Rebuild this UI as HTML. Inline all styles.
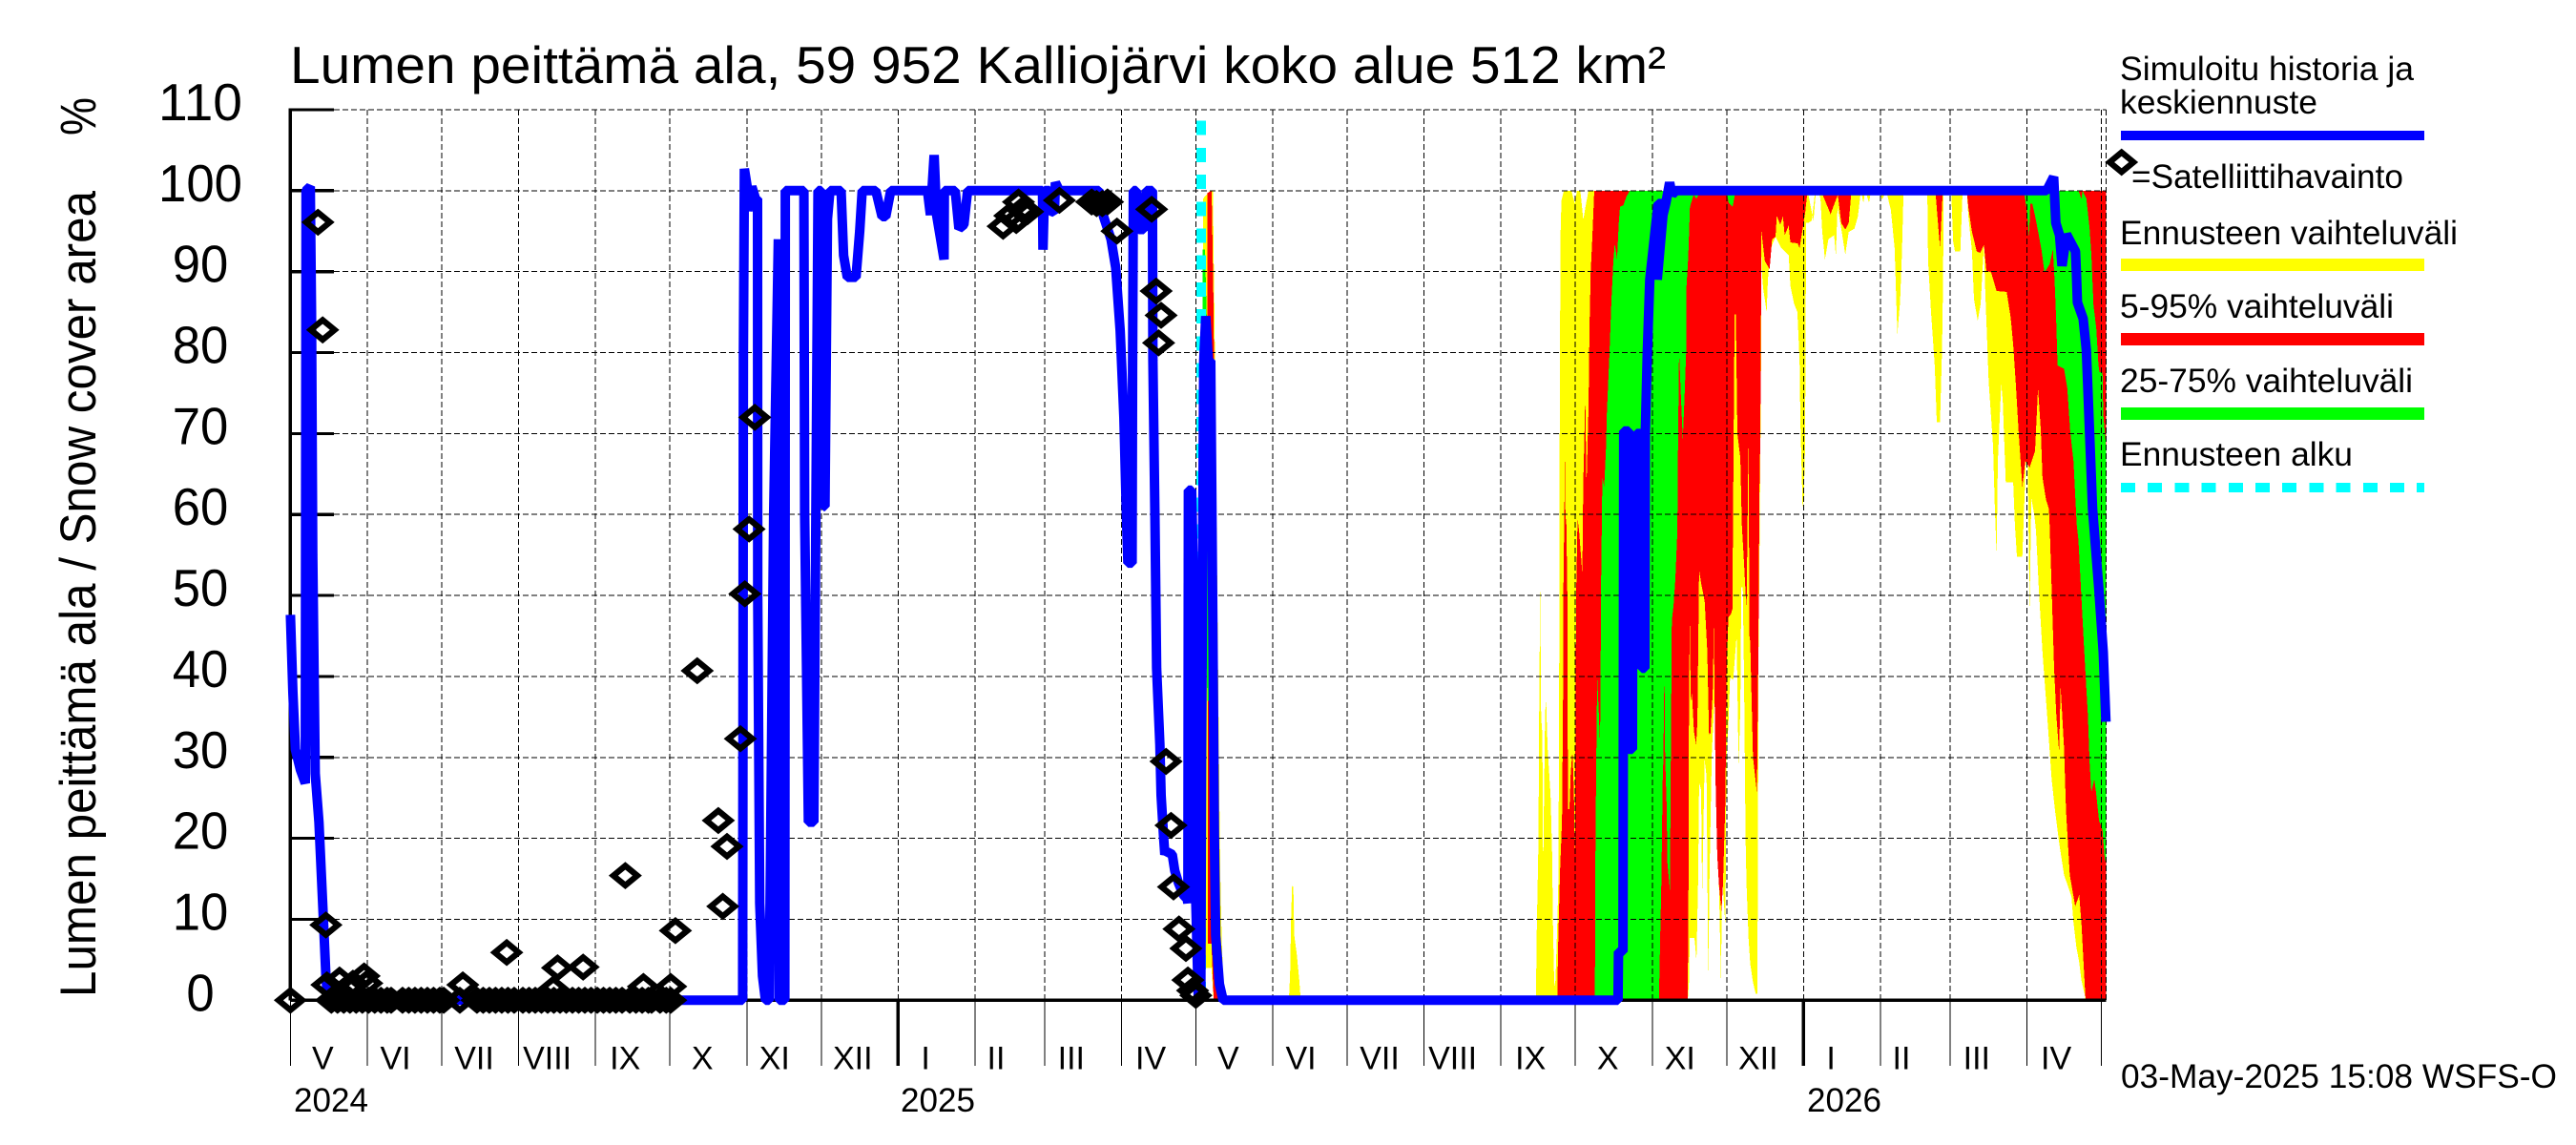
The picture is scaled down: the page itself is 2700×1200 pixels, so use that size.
<!DOCTYPE html>
<html lang="fi">
<head>
<meta charset="utf-8">
<title>Lumen peittämä ala</title>
<style>
html,body{margin:0;padding:0;background:#fff;}
svg{display:block;}
text{font-family:"Liberation Sans",sans-serif;fill:#000;}
</style>
</head>
<body>
<svg id="chart" xmlns="http://www.w3.org/2000/svg" width="2700" height="1200" viewBox="0 0 2700 1200">
  <rect x="0" y="0" width="2700" height="1200" fill="#fff"/>
  <g id="bands" shape-rendering="crispEdges"></g>
  <g id="grid" shape-rendering="crispEdges"></g>
  <g id="axes" shape-rendering="crispEdges"></g>
  <g id="start" shape-rendering="crispEdges"></g>
  <g id="line"></g>
  <g id="obs"></g>
  <g id="labels"></g>

  <text x="304" y="87" font-size="55" textLength="1442" lengthAdjust="spacingAndGlyphs">Lumen peittämä ala, 59 952 Kalliojärvi koko alue 512 km²</text>
  <text transform="translate(100 1045) rotate(-90)" font-size="53" textLength="845" lengthAdjust="spacingAndGlyphs">Lumen peittämä ala / Snow cover area</text>
  <text transform="translate(100 142) rotate(-90)" font-size="53" textLength="40" lengthAdjust="spacingAndGlyphs">%</text>
  <text x="2223" y="1140" font-size="35" textLength="457" lengthAdjust="spacingAndGlyphs">03-May-2025 15:08 WSFS-O</text>

  <g>
    <text x="2222" y="84" font-size="35" textLength="308" lengthAdjust="spacingAndGlyphs">Simuloitu historia ja</text>
    <text x="2222" y="119" font-size="35" textLength="207" lengthAdjust="spacingAndGlyphs">keskiennuste</text>
    <rect x="2223" y="137" width="318" height="10" fill="#0000ff"/>
    <polygon points="2211.2,170 2223.7,159.7 2236.2,170 2223.7,180.3" fill="none" stroke="#000" stroke-width="6.3"/>
    <text x="2234" y="197" font-size="35" textLength="285" lengthAdjust="spacingAndGlyphs">=Satelliittihavainto</text>
    <text x="2222" y="256" font-size="35" textLength="354" lengthAdjust="spacingAndGlyphs">Ennusteen vaihteluväli</text>
    <rect x="2223" y="271" width="318" height="13" fill="#ffff00"/>
    <text x="2222" y="333" font-size="35" textLength="287" lengthAdjust="spacingAndGlyphs">5-95% vaihteluväli</text>
    <rect x="2223" y="349" width="318" height="13" fill="#ff0000"/>
    <text x="2222" y="411" font-size="35" textLength="307" lengthAdjust="spacingAndGlyphs">25-75% vaihteluväli</text>
    <rect x="2223" y="427" width="318" height="13" fill="#00ff00"/>
    <text x="2222" y="488" font-size="35" textLength="244" lengthAdjust="spacingAndGlyphs">Ennusteen alku</text>
    <line x1="2223" y1="511" x2="2541" y2="511" stroke="#00ffff" stroke-width="10" stroke-dasharray="15 13.2" shape-rendering="crispEdges"/>
  </g>
</svg>

<script>
// ---- Axis data ----
const yTicks = [0,10,20,30,40,50,60,70,80,90,100,110];
const monthLabels = ["V","VI","VII","VIII","IX","X","XI","XII","I","II","III","IV","V","VI","VII","VIII","IX","X","XI","XII","I","II","III","IV"];
// days since 1 May 2024 of each month start (the last one closes the final month)
const monthStartDays = [0,31,61,92,123,153,184,214,245,276,304,335,365,396,426,457,488,518,549,579,610,641,669,700,730];
const yearLabels = ["2024","2025","2026"];
const yearStartDays = [245,610];
const forecastStartDay = 367.2;

// ---- Series: [day since 1 May 2024, percent] ----
const simulatedLine = [[0,47.6],[1,38],[2,31],[4,28.5],[6,26.8],[6.3,100],[8,100.5],[8.5,85],[9,55],[10,28],[11.5,22],[13,12],[14.3,3],[15,0],
[182.3,0],[182.6,80],[183,102.7],[184.4,100],[184.4,97.5],[186,100.5],[187.5,99],[188.3,99],[188.4,50],[189.2,12],[190.3,3],[191.5,0],
[193,0],[194.8,60],[196.7,94],[197,0],[199.3,0],[199.5,100],[207,100],[207.3,60],[208.8,22],[211,22],[212.7,100],[214,100],[215,61],[215.5,61],[216.5,96.5],[217.5,100],[222,100],[223,92],[224.5,89.3],[228,89.3],[229.5,95],[230.5,100],
[236,100],[238.5,96.8],[240,96.8],[242,100],[256.8,100],[258,97],[259.5,104.4],[260.5,97],[263.5,91.5],[263.6,100],[268,100],[269.5,95.3],[271.5,95.8],[273,100],
[303.2,100],[303.4,92.7],[304,100],[306,100],[306.5,97.5],[308,97.3],[308.4,101],[310,100],[326,100],[327.8,96.8],[330.8,94],[332.7,90.5],[334.5,82.7],[336,72],[337,60],[337.6,54],[339.3,54],[339.5,78],[339.8,100],
[341,100],[342,95.2],[344,95.2],[345,100],[347.5,100],[347.7,79],[348.5,60],[349.2,41],[349.9,36],[350.5,31.6],[351,25.3],[352,20.2],[352.5,18],[353,18.4],[355.5,18],[356.5,16],[358,14.5],[360,13],[361.5,12.5],[361.8,12],[362,63],[363.3,63],[364.8,41],[365,12],[366,0],[367,0],[367.3,30],[368.2,79],[369,84.5],[370,79],[371,79],[372,41],[372.5,20],[373,8],[374.5,2],[376,0],
[535.2,0],[535.4,6],[537.2,6],[537.5,70.3],[539.5,70.3],[539.5,31],[541,31],[541.2,66],[542.7,70],[544.2,70],[544.8,41],[546,41],[546.2,70],[547,80],[548,89],[550.5,96],[551.4,98.4],[553.9,98.4],[552,96],[551.2,92],[551,89],[553.3,97],[554.5,98.5],[556,101],[557,99.5],[558.5,100],
[708,100],[710.8,101.7],[711.7,96],[713.2,94.5],[714.2,90.7],[716,94.6],[719.6,92.5],[720,89.7],[720.4,86.2],[722.7,84.2],[724,80.3],[725,72.4],[726.5,60.7],[727,58.7],[729,50.9],[730.8,43],[731.9,34.4]];

const observations = [[0,0],[11.1,96.1],[13,82.8],[14.3,9.3],[14.7,1.9],[19.8,2.5],[25.2,2.1],[29.7,3],[30.8,2.1],
[16.5,0],[19,0],[21.5,0],[24,0],[26.5,0],[29,0],[31.5,0],[34,0],[36.5,0],[39,0],[40.6,0],
[45.2,0],[47.7,0],[50.2,0],[52.7,0],[55.2,0],[57.7,0],[60.2,0],[61.8,0],[68.3,0],[69.5,1.9],
[75.2,0],[77.7,0],[80.2,0],[82.7,0],[85.2,0],[87.7,0],[90.2,0],[87.2,5.9],
[93.7,0],[96.2,0],[98.7,0],[101.2,0],[103.7,0],[106.2,0],[106,1.4],[107.7,4],[108.7,0],[111.2,0],[113.7,0],[116.2,0],[118,4.1],[118.7,0],[121.2,0],[123.7,0],[126.2,0],[128.7,0],[131.2,0],[133.7,0],
[135,15.4],[136.8,0],[139.3,0],[141.8,0],[144.3,0],[145.6,0],[142.3,1.7],[149,0],[151.5,0],[153.3,0],[153.3,1.7],[155.2,8.6],[164,40.7],[172.5,22.2],[174.3,11.6],[176,19],[181.4,32.3],[183.2,50.2],[184.9,58.2],[187.2,72],
[287.3,95.6],[290,96.9],[292.6,96.3],[293.5,98.6],[295,97.6],[297.2,97.4],[310,98.8],[323,98.6],[325,98.4],[327.3,98.4],[329.4,98.6],[333.2,95],
[347.2,97.7],[349,87.6],[350,81.2],[351,84.6],[353,29.5],[355,21.6],[356,14],[358.2,8.8],[361,6.4],[361.8,2.5],[363.7,1.2],[365,0.6]];

const yellowUpper = [[367.9,99],[370.7,100],[371.9,100],[372.7,80],[374.6,21.6],[375,13.4],[375.5,6.9],[376.3,1],[377.2,0],
[402.5,0],[403,3.2],[403.4,10],[403.8,14.2],[404.3,14],[404.7,8],[405.7,5.7],[406.7,2.5],[407.3,0],
[502.1,0],[502.4,7.7],[503.1,19.5],[503.4,34.8],[503.8,51],[504.2,35],[504.7,32.8],[505,15.3],[505.3,23.4],[505.8,35.5],[506.2,37.2],[506.8,31.2],[508,25.3],[508.6,18.2],[509,8.8],[509.5,1.7],[510,2.5],[510.8,10.4],[511.2,15.5],[511.5,43],[511.7,72.4],[512,94.5],[512.4,98.8],[513.4,100],[516.4,100],[517.8,98.4],[518.6,100],[520,100],[521.2,96.4],[522.3,98.4],[523.3,100],
[610.2,100],[611.6,100],[614,96.3],[615,100],[731.9,100]];
const yellowLower = [[367.9,4],[371.3,4],[372.2,0],[563.3,0],[563.8,2.2],[564.1,7.7],[566,7.7],[566.4,6.5],[566.8,4.7],[567.5,15],[567.9,26.9],[568.7,26],[569.1,12.8],[570.1,29.7],[570.9,27.6],[571.6,1.7],[572,14],[573,30.5],[574.2,37.9],[575.2,18],[575.9,14.3],[576.7,2.5],[577.2,15],[577.9,12],[578.5,9.2],[578.9,30],[579.7,34],[580.4,39.9],[581.6,39.5],[583,45],[583.8,29],[584.5,36],[584.9,51],[585.5,51],[586,40],[586.6,20],[587,14.3],[587.8,7.7],[588.5,4.5],[589.6,2.2],[590.7,0.8],[591.4,0.8],[591.6,21.4],[591.9,45],[592.2,54],[592.6,68.5],[592.9,80],[593,92],[593.2,90],[593.7,88],[595.1,85],[595.6,89],[596.4,92],[597.3,93.3],[598.7,94.3],[601,92.9],[604,92],[604.7,88.2],[606.2,86],[607.5,85],[608.4,79],[608.7,71.7],[609.6,60.7],[610.1,62],[610.6,68.5],[610.9,85],[611,96],[611.8,96],[613.3,96.3],[614.5,99.5],[616,100],[616.8,99],[617.5,95],[618.6,91.5],[620,94],[622.3,94.5],[623,92],[623.7,98],[625.2,95.3],[626.8,92.1],[628.2,94.9],[630.5,95.3],[631.9,96.8],[633.1,100],[634.1,98.5],[634.9,100],[636.4,98.5],[637.2,100],[640.7,100],[641.6,98.9],[642.6,99.5],[643.7,99.5],[645.2,97.6],[646.7,92.9],[647.8,82.3],[648.9,86.2],[649.6,92],[650.3,100],[659.9,100],[660.2,91.3],[661.4,85],[662.9,78.3],[663.7,71.4],[665,71.4],[665.8,80.3],[666.2,88],[666.5,100],[669.5,100],[670.3,93.7],[671,92.5],[673.2,92.5],[674.1,100],[675.8,100],[676.4,97],[677.9,92.5],[678.7,86.6],[680.2,83.9],[681.4,86],[682.7,93.3],[683.2,88],[684.6,76.4],[686.4,68.5],[687.1,60.7],[687.8,55],[688.3,66.6],[689.7,76.2],[690.3,74],[691.5,64],[694.5,64],[695.2,58.7],[696,54.8],[698.2,54.8],[699.6,66.6],[700.2,70],[701.1,48.3],[701.8,62],[703,60],[703.7,58],[704.8,50.9],[706.3,43],[708.2,35.2],[710,27.3],[711.4,23.4],[713,19.5],[715,15.5],[718,12.8],[718.8,9.6],[720,6.5],[721,4.9],[722,2.5],[723.4,0.6],[723.7,0],[731.9,0]];

const redUpper = [[369.7,99.7],[371.4,100],[372.2,85],[373,40],[374.9,8],[376,2],[376.8,0],[510.7,0],[511,6],[511.8,15.9],[512.6,22.2],[513,35.2],[513.2,51],[513.8,66.9],[514,60],[514.4,58.7],[514.8,49.3],[515,23.6],[515.6,23.6],[516.1,28],[516.8,30.8],[517.4,26],[517.8,17.1],[518.3,50],[518.9,59.5],[519.5,58],[520.8,52.6],[521.2,64],[521.5,67.7],[522,74.8],[522.5,63.4],[523.3,73.2],[523.7,83],[524.2,90.1],[524.8,94],[525.6,100],[731.9,100]];
const redLower = [[369.8,7],[371.3,7],[372.2,0],[376.8,0],[563.3,0],[563.6,14.3],[563.8,35.5],[564.1,48],[564.5,37],[565,37.9],[565.8,33.2],[566.7,31.6],[567.2,34.4],[567.9,53.2],[568.7,51.5],[570.1,49.3],[571.2,43],[571.9,32.8],[572.5,33],[573.4,38],[573.8,46.3],[574.5,27.3],[575.2,17.9],[575.9,14.3],[576.9,11],[577.5,14.3],[578.5,24.9],[578.9,39.9],[579.7,47.3],[580.7,47.7],[581.3,48.3],[581.6,61.5],[582.2,84.7],[582.7,84.7],[583.3,70],[584.5,67],[585.1,58.7],[586,54],[587,48],[587.8,69.5],[588.2,45],[588.5,44.2],[589.6,30],[590.7,27],[591.2,25.5],[591.8,44.2],[592.2,62.6],[592.5,68.5],[592.8,80],[592.9,95.3],[594.4,91.3],[596.3,90.3],[597.3,94],[598.7,94.3],[599.2,96.9],[600.6,95.8],[601.7,96.8],[602.4,94.5],[604,95.7],[604.7,93.6],[607.6,93.5],[608.4,92.9],[609.6,95.3],[610.6,97.2],[611.6,100],[617,100],[620.9,97.1],[623.8,99.5],[625.2,96],[626.8,95.2],[628.2,96],[629.3,100],[663.1,100],[665,92.9],[666.1,100],[675.8,100],[676.4,98],[677.9,94.9],[679.8,92.5],[681.2,92.3],[682.7,93.3],[683.7,90.1],[685.6,89.9],[687.8,87.6],[691.9,87.5],[693.5,84.3],[694.5,81],[695.5,76.4],[696.7,70.2],[698.2,63.4],[699.4,66.6],[701.1,65.8],[703.3,67.8],[704.5,75.6],[705.6,70.5],[706.3,64.6],[707.7,61.9],[708.9,60.7],[709.2,58.7],[710,50.9],[711,41],[711.9,35.2],[713,30.7],[713.6,38.7],[715,31.2],[715.8,23.4],[717.3,15.5],[719.5,11.6],[721.1,13],[722,9.6],[722.9,4.5],[723.7,0],[731.9,0]];

const greenUpper = [[367.8,92.7],[368.7,92.7],[370.6,70],[371.5,60],[371.8,37],[371.9,0],[525.9,0],[525.95,13.6],[526.4,28.5],[526.8,39.9],[527.4,36],[527.9,32],[528.1,36],[528.3,50],[528.9,64.6],[529.6,63.4],[530.3,67.8],[530.7,72.4],[531.8,80.3],[532.5,86.2],[533.3,91.3],[533.9,93.5],[534.8,91.5],[535.5,96],[536,98],[537.4,98.2],[538.5,99.2],[539.9,100],[720.8,100],[722,99],[722.5,100],[724,99],[725.3,95.3],[726,92.1],[726.9,85.8],[728,83],[728.9,78.4],[729.3,77.6],[730.5,77.6],[730.8,72.4],[731.9,68.5]];
const greenLower = [[367.8,60],[369.7,37],[371.8,37],[371.9,0],[551.7,0],[552.2,7.7],[552.6,13.6],[552.9,19.5],[553.2,27],[553.5,30],[553.9,41.6],[554.2,30],[554.8,24],[555.1,17],[556.1,13.6],[556.6,35.2],[556.9,46.9],[557.6,48.9],[558.3,52],[559.1,57.9],[559.4,68.5],[559.8,80.3],[560.5,75],[561.3,69.3],[562,74.4],[562.7,80.3],[562.8,88.2],[563.5,91.7],[564.2,98],[565.7,99.5],[566.8,99],[568.6,100],[578.9,100],[579.8,98.5],[581.4,98],[582.6,100],[698.9,100],[700.2,97],[700.9,94.3],[701.4,98.4],[702.2,98.4],[703.4,96.8],[704.8,94.5],[706,92.5],[707.1,89.9],[709.2,90.9],[710.5,92.7],[711.1,89.4],[711.8,84.3],[712.4,78.4],[715,78],[716.3,75.6],[717.5,70.2],[718.8,66.6],[720.1,58.7],[720.8,56.8],[722,49.7],[723.3,42.2],[724.6,35.2],[725.3,29.3],[726,25.7],[727.2,27.3],[727.9,25.7],[729.1,22.2],[730.5,21],[731.4,17.5],[731.9,17]];

// ---- Scales ----
const SVGNS = "http://www.w3.org/2000/svg";
function xScale(day){ return 304.4 + 2.6 * day; }
function yScale(value){ return 1048.3 - 8.485 * value; }
function mk(parent, tag, attrs){
  const el = document.createElementNS(SVGNS, tag);
  for (const k in attrs) el.setAttribute(k, attrs[k]);
  document.getElementById(parent).appendChild(el);
  return el;
}
function pts(series){
  return series.map(function(p){ return xScale(p[0]).toFixed(1) + "," + yScale(p[1]).toFixed(1); });
}
function bandPoints(upper, lower){
  return pts(upper).concat(pts(lower).reverse()).join(" ");
}

function drawBands(){
  const yb = mk("bands", "polygon", {points: bandPoints(yellowUpper, yellowLower), fill: "#ffff00"});
  
  
  const rb = mk("bands", "polygon", {points: bandPoints(redUpper, redLower), fill: "#ff0000"});
  
  
  const gb = mk("bands", "polygon", {points: bandPoints(greenUpper, greenLower), fill: "#00ff00"});
  
  
}

function drawGrid(){
  const right = xScale(731.9);
  yTicks.forEach(function(v){
    const l = mk("grid", "line", {x1: 350, x2: right, y1: yScale(v), y2: yScale(v), stroke: "#000", "stroke-width": 1, "stroke-dasharray": "6 3"});
    
    
  });
  monthStartDays.slice(1).forEach(function(d){
    const l = mk("grid", "line", {x1: xScale(d), x2: xScale(d), y1: yScale(110), y2: yScale(0), stroke: "#000", "stroke-width": 1, "stroke-dasharray": "6 3"});
    
    
  });
  const e = mk("grid", "line", {x1: right, x2: right, y1: yScale(110), y2: yScale(0), stroke: "#000", "stroke-width": 1, "stroke-dasharray": "6 3"});
  
  
}

function drawAxes(){
  const ax = mk("axes", "line", {x1: xScale(0), x2: xScale(0), y1: yScale(110) - 1.5, y2: yScale(0), stroke: "#000", "stroke-width": 3.4});
  
  
  const zx = mk("axes", "line", {x1: xScale(0), x2: xScale(731.9), y1: yScale(0), y2: yScale(0), stroke: "#000", "stroke-width": 3.7});
  
  
  yTicks.forEach(function(v){
    const t = mk("axes", "line", {x1: xScale(0), x2: 350, y1: yScale(v), y2: yScale(v), stroke: "#000", "stroke-width": 3.2});
    
    
    const s = String(v);
    const lab = mk("labels", "text", {x: 210, y: yScale(v) + 11, "font-size": 55, "text-anchor": "middle", textLength: s.length * 29.3, lengthAdjust: "spacingAndGlyphs"});
    lab.textContent = s;
    
    
  });
  monthStartDays.forEach(function(d){
    const isYear = yearStartDays.indexOf(d) >= 0;
    const t = mk("axes", "line", {x1: xScale(d), x2: xScale(d), y1: yScale(0), y2: 1117, stroke: "#000", "stroke-width": isYear ? 3.4 : 1});
    
    
  });
  const shift = {I:28.7,II:22,III:28,IV:30.7,V:34,VI:29.5,VII:34,VIII:30,IX:31,X:34,XI:29,XII:33};
  monthLabels.forEach(function(name, i){
    const lab = mk("labels", "text", {x: xScale(monthStartDays[i]) + shift[name], y: 1120.5, "font-size": 34, "text-anchor": "middle"});
    lab.textContent = name;
    
    
  });
  const yearShift = [3.6, 2.6, 3.6];
  [0].concat(yearStartDays).forEach(function(d, i){
    const lab = mk("labels", "text", {x: xScale(d) + yearShift[i], y: 1165, "font-size": 35, textLength: 78, lengthAdjust: "spacingAndGlyphs"});
    lab.textContent = yearLabels[i];
    
    
  });
}

function drawForecastStart(){
  const l = mk("start", "line", {x1: xScale(forecastStartDay), x2: xScale(forecastStartDay), y1: 126.7, y2: yScale(0), stroke: "#00ffff", "stroke-width": 10, "stroke-dasharray": "15 13.2"});
  
  
}

function drawLine(){
  const l = mk("line", "polyline", {points: pts(simulatedLine).join(" "), fill: "none", stroke: "#0000ff", "stroke-width": 10, "stroke-linejoin": "bevel", "stroke-linecap": "butt"});
  
  
}

function drawObservations(){
  observations.forEach(function(p){
    const x = xScale(p[0]), y = yScale(p[1]);
    const d = mk("obs", "polygon", {points: (x-12.5)+","+y+" "+x+","+(y-10.25)+" "+(x+12.5)+","+y+" "+x+","+(y+10.25), fill: "none", stroke: "#000", "stroke-width": 6.3});
    
    
  });
}

drawBands();
drawGrid();
drawAxes();
drawForecastStart();
drawLine();
drawObservations();
</script>
</body>
</html>
